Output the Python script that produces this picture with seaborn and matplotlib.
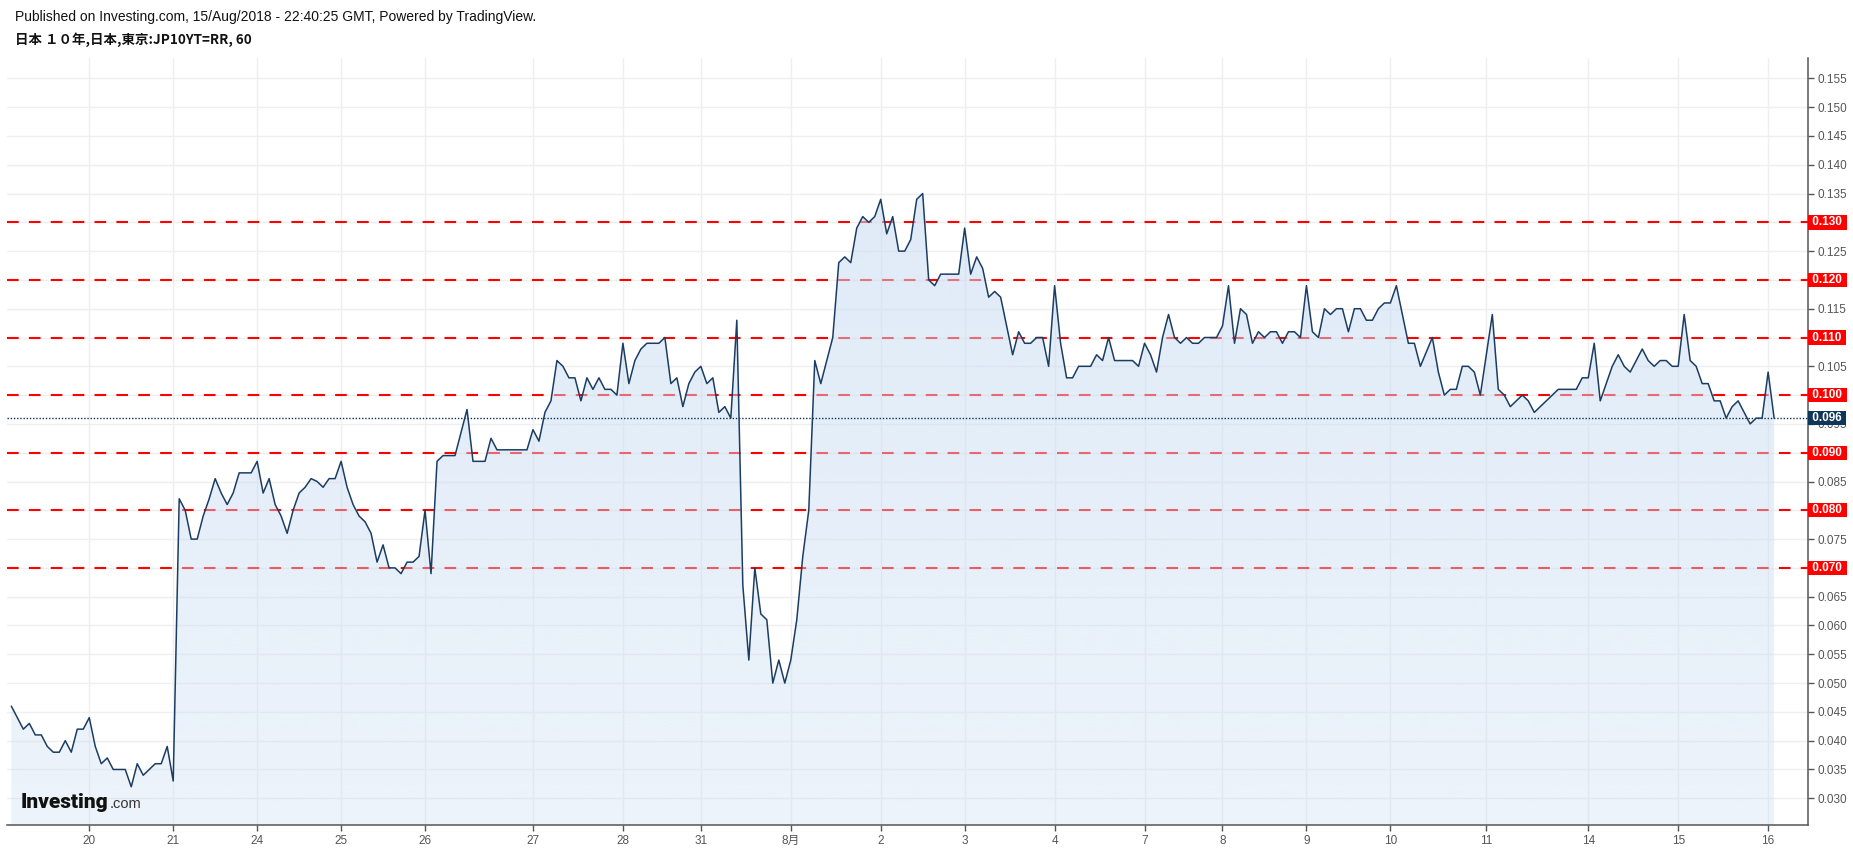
import numpy as np
import pandas as pd
import matplotlib
matplotlib.use("Agg")
import matplotlib.pyplot as plt
import seaborn as sns

# ---- data: JGB 10Y yield, hourly bars ----
yields_jul20 = [0.046, 0.044, 0.042, 0.043, 0.041, 0.041, 0.039, 0.038, 0.038, 0.040,
                0.038, 0.042, 0.042, 0.044, 0.039, 0.036, 0.037, 0.035, 0.035, 0.035,
                0.032, 0.036, 0.034, 0.035, 0.036, 0.036, 0.039, 0.033]
yields_jul23_27 = [0.082, 0.080, 0.075, 0.075, 0.079, 0.082, 0.0855, 0.083, 0.081, 0.083,
                   0.0865, 0.0865, 0.0865, 0.0885, 0.083, 0.0855, 0.081, 0.079, 0.076, 0.080,
                   0.083, 0.084, 0.0855, 0.085, 0.084, 0.0855, 0.0855, 0.0885, 0.084, 0.081,
                   0.079, 0.078, 0.076, 0.071, 0.074, 0.070, 0.070, 0.069, 0.071, 0.071,
                   0.072, 0.080, 0.069, 0.0885, 0.0895, 0.0895, 0.0895, 0.0935, 0.0975, 0.0885,
                   0.0885, 0.0885, 0.0925, 0.0905, 0.0905, 0.0905, 0.0905, 0.0905, 0.0905, 0.094]
yields_jul30_aug1 = [0.092, 0.097, 0.099, 0.106, 0.105, 0.103, 0.103, 0.099, 0.103, 0.101,
                     0.103, 0.101, 0.101, 0.100, 0.109, 0.102, 0.106, 0.108, 0.109, 0.109,
                     0.109, 0.110, 0.102, 0.103, 0.098, 0.102, 0.104, 0.105, 0.102, 0.103,
                     0.097, 0.098, 0.096, 0.113, 0.067, 0.054, 0.070, 0.062, 0.061, 0.050,
                     0.054, 0.050, 0.054, 0.061, 0.072, 0.080, 0.106, 0.102, 0.106, 0.110,
                     0.123, 0.124, 0.123, 0.129, 0.131, 0.130]
yields_aug2_8 = [0.131, 0.134, 0.128, 0.131, 0.125, 0.125, 0.127, 0.134, 0.135, 0.120,
                 0.119, 0.121, 0.121, 0.121, 0.121, 0.129, 0.121, 0.124, 0.122, 0.117,
                 0.118, 0.117, 0.112, 0.107, 0.111, 0.109, 0.109, 0.110, 0.110, 0.105,
                 0.119, 0.109, 0.103, 0.103, 0.105, 0.105, 0.105, 0.107, 0.106, 0.110,
                 0.106, 0.106, 0.106, 0.106, 0.105, 0.109, 0.107, 0.104, 0.110, 0.114,
                 0.110, 0.109, 0.110, 0.109, 0.109, 0.110, 0.110, 0.110, 0.112, 0.119,
                 0.109]
yields_aug8_11 = [0.115, 0.114, 0.109, 0.111, 0.110, 0.111, 0.111, 0.109, 0.111, 0.111,
                  0.110, 0.119, 0.111, 0.110, 0.115, 0.114, 0.115, 0.115, 0.111, 0.115,
                  0.115, 0.113, 0.113, 0.115, 0.116, 0.116, 0.119, 0.114, 0.109, 0.109,
                  0.105, 0.1075, 0.110, 0.104, 0.100, 0.101, 0.101, 0.105, 0.105, 0.104,
                  0.100, 0.107, 0.114, 0.101, 0.100, 0.098, 0.099]
yields_aug14_16 = [0.100, 0.099, 0.097, 0.098, 0.099, 0.100, 0.101, 0.101, 0.101, 0.101,
                   0.103, 0.103, 0.109, 0.099, 0.102, 0.105, 0.107, 0.105, 0.104, 0.106,
                   0.108, 0.106, 0.105, 0.106, 0.106, 0.105, 0.105, 0.114, 0.106, 0.105,
                   0.102, 0.102, 0.099, 0.099, 0.096, 0.098, 0.099, 0.097, 0.095, 0.096,
                   0.096, 0.104, 0.096]

tick_bars = [13, 27, 41, 55, 69, 87, 102, 115, 130, 145, 159, 174, 189, 202, 216,
             230, 246, 263, 278, 293]
tick_labels = ["20", "21", "24", "25", "26", "27", "28", "31", "8月", "2", "3", "4",
               "7", "8", "9", "10", "11", "14", "15", "16"]
level_lines = [0.070, 0.080, 0.090, 0.100, 0.110, 0.120, 0.130]
price_ticks = [round(0.030 + 0.005 * k, 3) for k in range(26)]
last_price = 0.096
header = "Published on Investing.com, 15/Aug/2018 - 22:40:25 GMT, Powered by TradingView."
subtitle = "日本 １０年,日本,東京:JP10YT=RR, 60"

yields = (yields_jul20 + yields_jul23_27 + yields_jul30_aug1 + yields_aug2_8
          + yields_aug8_11 + yields_aug14_16)
df = pd.DataFrame({"bar": np.arange(len(yields)), "yield": yields})

# ---- style ----
sns.set_theme(style="white")
plt.rcParams["font.family"] = ["Liberation Sans", "Noto Sans CJK JP", "DejaVu Sans"]

W, H = 1853, 849
fig = plt.figure(figsize=(W / 100, H / 100), dpi=100, facecolor="white")
ax = fig.add_axes([7 / W, 1 - 825 / H, (1808 - 7) / W, (825 - 58) / H])
ax.set_facecolor("white")

x0, x1 = -0.72, 299.65
y0, y1 = 0.02536, 0.15853

# grid + ticks (labels under the price boxes are hidden by them in the original)
ax.set_xticks(tick_bars)
ax.set_xticklabels(tick_labels)
ax.set_yticks(price_ticks)
ax.set_yticklabels(["" if any(abs(v - l) < 1e-9 for l in level_lines) else f"{v:.3f}"
                    for v in price_ticks])
ax.grid(True, color="#efefef", linewidth=1.0, zorder=0)
ax.set_axisbelow(True)

# dashed level lines (beneath the translucent area fill)
for v in level_lines:
    ax.axhline(v, color="#ff0000", linewidth=1.5, dashes=(5.6, 4.9), zorder=1.5)

# area fill with vertical gradient, clipped to the area under the curve
fb = ax.fill_between(df["bar"], df["yield"], y0, facecolor="none", edgecolor="none")
n = 256
grad = np.zeros((n, 1, 4))
base = np.array([200, 220, 242]) / 255.0
grad[:, 0, :3] = base
grad[:, 0, 3] = np.linspace(0.33, 0.62, n)
im = ax.imshow(grad, extent=[x0, x1, y0, y1], origin="lower", aspect="auto",
               interpolation="bilinear", zorder=2)
im.set_clip_path(fb.get_paths()[0], transform=ax.transData)

# last price dotted line
ax.axhline(last_price, color="#0f2f52", linewidth=1.0, linestyle=(0, (1, 1.3)), zorder=3.5)

# the price line
sns.lineplot(data=df, x="bar", y="yield", ax=ax, color="#1b3d63", linewidth=1.1,
             zorder=4, legend=False)

ax.set_xlim(x0, x1)
ax.set_ylim(y0, y1)
ax.set_xlabel("")
ax.set_ylabel("")

for s in ["left", "top"]:
    ax.spines[s].set_visible(False)
for s in ["bottom", "right"]:
    ax.spines[s].set_visible(True)
    ax.spines[s].set_color("#555555")
    ax.spines[s].set_linewidth(1.1)

ax.yaxis.tick_right()
ax.tick_params(axis="y", which="both", right=True, left=False, length=4, width=1,
               color="#555555", labelcolor="#555555", labelsize=8.5, pad=3)
ax.tick_params(axis="x", which="both", bottom=True, top=False, length=4, width=1,
               color="#555555", labelcolor="#555555", labelsize=8.5, pad=3)

# price labels on the right axis
def price_box(v, color, z):
    ax.annotate(f" {v:.3f} ", xy=(1, v), xycoords=("axes fraction", "data"),
                xytext=(0.9, 0), textcoords="offset points", ha="left", va="center",
                color="white", fontsize=8.5, fontweight="bold",
                bbox=dict(boxstyle="square,pad=0.1", fc=color, ec="none"),
                zorder=z, annotation_clip=False)

for v in level_lines:
    price_box(v, "#ff0000", 10)
price_box(last_price, "#0f3558", 11)

# header texts
fig.text(15 / W, 1 - 17 / H, header, fontsize=10, color="#111111", ha="left", va="center")
fig.text(15 / W, 1 - 40 / H, subtitle, fontsize=9.7, fontweight="bold", color="#111111",
         ha="left", va="center", family=["Noto Sans CJK JP", "DejaVu Sans"])

# Investing.com logo
logo = fig.text(21 / W, 1 - 808 / H, "Investing", fontsize=15, fontweight=900,
                family=["Roboto", "Liberation Sans"], color="#111111",
                ha="left", va="baseline")
fig.canvas.draw()
bb = logo.get_window_extent()
fig.text((bb.x1 + 1) / W, 1 - 808 / H, ".com", fontsize=10.5, color="#333333",
         family=["Liberation Sans"], ha="left", va="baseline")

fig.savefig("out.png", dpi=100, facecolor="white")
